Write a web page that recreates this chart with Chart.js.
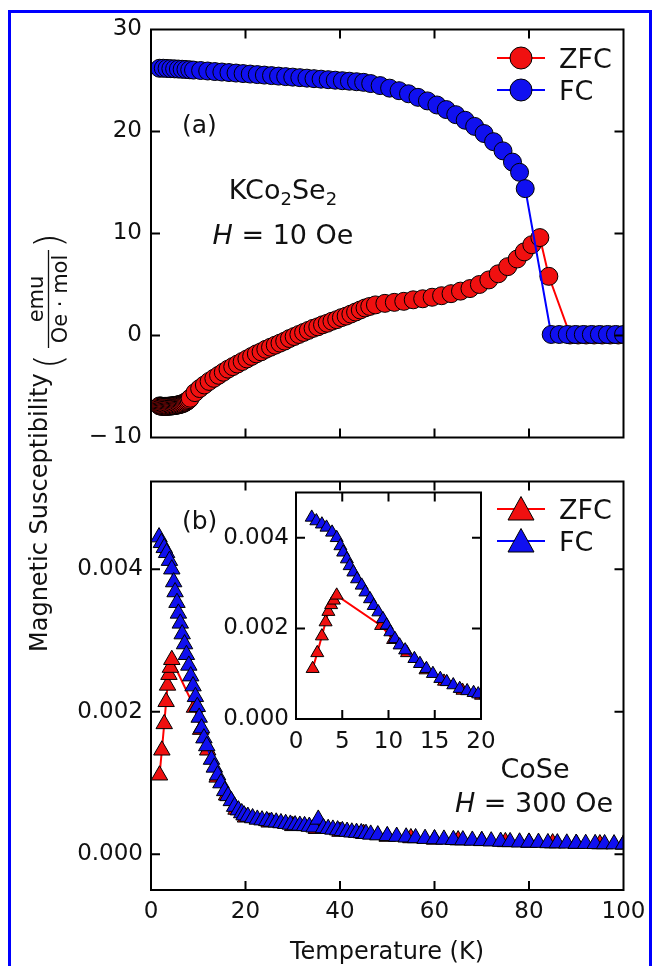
<!DOCTYPE html>
<html><head><meta charset="utf-8">
<script src="https://cdn.jsdelivr.net/npm/chart.js@4.4.1/dist/chart.umd.min.js"></script>
<style>
html,body{margin:0;padding:0;background:#fff;}
body{width:652px;height:966px;position:relative;overflow:hidden;}
canvas{position:absolute;left:0;top:0;}
svg{position:absolute;left:0;top:0;pointer-events:none;}
#frame{position:absolute;left:8px;top:10px;width:644px;height:1000px;border:3.5px solid #0000ff;box-sizing:border-box;}
</style></head>
<body>
<canvas id="cTop" width="652" height="966"></canvas>
<canvas id="cBot" width="652" height="966"></canvas>
<canvas id="cIns" width="652" height="966"></canvas>
<svg width="652" height="966" viewBox="0 0 652 966" font-family="DejaVu Sans" fill="#111">
  <!-- panel (a) -->
  <text x="182" y="133" font-size="25">(a)</text>
  <text x="283" y="199" font-size="27" text-anchor="middle">KCo<tspan font-size="18" dy="6">2</tspan><tspan dy="-6">Se</tspan><tspan font-size="18" dy="6">2</tspan></text>
  <text x="283" y="244" font-size="27" text-anchor="middle"><tspan font-style="italic">H</tspan> = 10 Oe</text>
  <line x1="497" y1="58" x2="545" y2="58" stroke="#ff0000" stroke-width="2"/>
  <circle cx="521" cy="58" r="11" fill="#f01010" stroke="#000" stroke-width="1"/>
  <text x="559" y="68" font-size="27">ZFC</text>
  <line x1="497" y1="90" x2="545" y2="90" stroke="#0000ff" stroke-width="2"/>
  <circle cx="521" cy="90" r="11" fill="#1010f0" stroke="#000" stroke-width="1"/>
  <text x="559" y="100" font-size="27">FC</text>
  <!-- panel (b) -->
  <text x="182" y="529" font-size="25">(b)</text>
  <line x1="497" y1="509" x2="545" y2="509" stroke="#ff0000" stroke-width="2"/>
  <polygon points="521,496.5 508,520 534,520" fill="#f01010" stroke="#000" stroke-width="1"/>
  <text x="559" y="519" font-size="27">ZFC</text>
  <line x1="497" y1="541" x2="545" y2="541" stroke="#0000ff" stroke-width="2"/>
  <polygon points="521,528.5 508,552 534,552" fill="#1010f0" stroke="#000" stroke-width="1"/>
  <text x="559" y="551" font-size="27">FC</text>
  <text x="535" y="778" font-size="27" text-anchor="middle">CoSe</text>
  <text x="534" y="812" font-size="27" text-anchor="middle"><tspan font-style="italic">H</tspan> = 300 Oe</text>
  <!-- axis titles -->
  <text x="387" y="959" font-size="24" text-anchor="middle">Temperature (K)</text>
  <g transform="translate(48,440) rotate(-90)">
    <text x="-212" y="-1.3" font-size="24">Magnetic Susceptibility</text>
    <text x="71" y="13" font-size="38" font-weight="200">(</text>
    <text x="141" y="-5" font-size="21" text-anchor="middle">emu</text>
    <line x1="92" y1="0.5" x2="190" y2="0.5" stroke="#111" stroke-width="1.3"/>
    <text x="141" y="19" font-size="21" text-anchor="middle">Oe · mol</text>
    <text x="192" y="13" font-size="38" font-weight="200">)</text>
  </g>
</svg>
<div id="frame"></div>
<script>
// ---------- data: KCo2Se2 (panel a), H = 10 Oe ----------
const topZfcT = [1.8,2.05,2.3,2.55,2.8,3.05,3.3,3.55,3.8,4.05,4.3,4.55,4.8,5.05,5.3,5.55,5.8,6.05,6.3,6.55,6.8,7.05,7.3,7.55,7.8,8.05,8.3,
  9.3,10.3,11.3,12.3,13.3,14.3,15.3,16.3,17.3,18.3,19.3,20.3,21.3,22.3,23.3,24.3,25.3,26.3,27.3,28.3,29.3,30.3,31.3,32.3,33.3,34.3,
  35.3,36.3,37.3,38.3,39.3,40.3,41.3,42.3,43.3,44.3,45.3,46.3,47.5,49.5,51.5,53.5,55.5,57.5,59.5,61.5,63.5,65.5,67.5,69.5,71.5,73.5,
  75.5,77.5,79.0,80.6,82.3,84.2,88.7,90.4,92.1,93.8,95.5,97.2,98.9];
const topZfcChi = [-6.9,-6.92,-6.94,-6.95,-6.95,-6.95,-6.95,-6.94,-6.93,-6.92,-6.9,-6.9,-6.88,-6.86,-6.84,-6.82,-6.8,-6.77,-6.74,-6.7,-6.66,-6.6,-6.54,-6.46,-6.38,-6.28,-6.15,
  -5.6,-5.2,-4.85,-4.5,-4.2,-3.9,-3.6,-3.3,-3.05,-2.8,-2.55,-2.3,-2.05,-1.8,-1.6,-1.35,-1.15,-0.95,-0.75,-0.55,-0.3,-0.1,0.1,0.3,0.5,0.7,
  0.85,1.05,1.2,1.4,1.55,1.75,1.9,2.1,2.3,2.5,2.7,2.85,3.0,3.15,3.25,3.35,3.5,3.6,3.75,3.9,4.1,4.35,4.6,5.0,5.45,6.05,
  6.75,7.5,8.2,8.9,9.6,5.8,0.05,0.05,0.05,0.05,0.05,0.05,0.05];
const topFcT = [1.8,2.6,3.4,4.2,5.0,5.8,6.6,7.4,8.2,9.0,10.5,12,13.5,15,16.5,18,19.5,21,22.5,24,
  25.5,27,28.5,30,31.5,33,34.5,36,37.5,39,40.5,42,43.5,45,46.5,48.5,50.5,52.5,54.5,56.5,
  58.5,60.5,62.5,64.5,66.5,68.5,70.5,72.5,74.5,76.5,78,79.2,84.7,86.4,88.1,89.8,91.5,93.2,94.9,96.6,98.3,100];
const topFcChi = [26.2,26.2,26.18,26.16,26.14,26.12,26.1,26.08,26.05,26.02,25.98,25.93,25.88,25.83,25.78,25.73,25.68,25.63,25.58,25.53,
  25.48,25.43,25.38,25.33,25.28,25.23,25.18,25.13,25.08,25.03,24.98,24.93,24.88,24.82,24.7,24.5,24.25,24.0,23.7,23.35,
  23.0,22.6,22.15,21.65,21.1,20.5,19.8,19.0,18.1,17.0,16.0,14.4,0.1,0.1,0.1,0.1,0.1,0.1,0.1,0.1,0.1,0.1];

// ---------- data: CoSe (panel b and inset), H = 300 Oe ----------
const botFcT = [1.7,2.2,2.8,3.3,3.9,4.4,4.8,5.1,5.5,5.8,6.2,6.6,7.1,7.5,8.0,8.4,8.9,9.4,9.8,10.2,
  10.7,11.2,11.8,12.8,13.4,14.1,14.8,15.6,16.3,17.0,17.7,18.5,19.2,19.7,20.5,21.5,22.5,23.5,24.5,25.5,
  26.5,27.5,28.5,29.5,30.5,31.5,32.5,33.5,34.5,35.4,36.5,37.5,38.5,39.5,40.5,41.5,42.5,43.5,44.5,45.5,
  46.5,48,50,52,54,56,58,60,62,64,66,68,70,72,74,76,78,80,82,84,86,88,90,92,94,96,98,100];
const botFcChi = [0.00445,0.00437,0.0043,0.00423,0.00412,0.004,0.00382,0.00368,0.00353,0.00338,0.00324,0.00309,0.00295,0.0028,0.00265,0.0025,0.00236,0.00221,0.00207,0.00192,
  0.00177,0.00163,0.00152,0.00133,0.00122,0.00111,0.001,0.00089,0.00082,0.00075,0.00067,0.00062,0.00058,0.00055,0.00053,0.00051,0.00049,0.00048,0.00047,0.00046,
  0.00045,0.00044,0.00043,0.00042,0.00041,0.000405,0.0004,0.00039,0.00038,0.00049,0.00037,0.00036,0.00035,0.00034,0.00033,0.00032,0.00031,0.000305,0.0003,0.00029,
  0.00028,0.00027,0.00026,0.00025,0.00024,0.00023,0.00022,0.000215,0.00021,0.000205,0.0002,0.000195,0.00019,0.000185,0.00018,0.000175,0.00017,0.000168,0.000165,0.00016,
  0.000158,0.000155,0.000152,0.00015,0.000148,0.000146,0.000144,0.000142];
const botZfcT = [1.8,2.3,2.8,3.2,3.5,3.8,4.1,4.4,9.2,10.5,12,14,16,18,20,25,30,35,40,45,50,55,60,65,70,75,80,85,90,95,100];
const botZfcChi = [0.00111,0.00146,0.00183,0.00214,0.00237,0.00252,0.00262,0.00273,0.00206,0.00175,0.00146,0.00108,0.00083,0.00063,0.00052,
  0.00045,0.0004,0.00036,0.00032,0.00029,0.00025,0.00023,0.00021,0.0002,0.00019,0.000175,0.000165,0.000158,0.00015,0.000145,0.00014];

// ---------- ticks ----------
const tempTicks = [0,20,40,60,80,100];
const tempLabels = ['0','20','40','60','80','100'];
const tempMarks = [20,40,60,80];
const topYTicks = [-10,0,10,20,30];
const topYLabels = ['\u2212\u200910','0','10','20','30'];
const topYMarks = [0,10,20];
const botYTicks = [0,0.002,0.004];
const botYLabels = ['0.000','0.002','0.004'];
const insXTicks = [0,5,10,15,20];
const insXLabels = ['0','5','10','15','20'];
const insXMarks = [5,10,15];
const insYMarks = [0.002,0.004];

const RED = '#f01010', BLUE = '#1010f0';

Chart.defaults.font.family = "'DejaVu Sans', sans-serif";
Chart.defaults.font.size = 23;
Chart.defaults.color = '#111';

const panelDecor = {
  id: 'panelDecor',
  beforeDatasetsDraw(chart, args, o) {
    if (!o || !o.fill) return;
    const a = chart.chartArea, ctx = chart.ctx;
    ctx.save(); ctx.fillStyle = o.fill;
    ctx.fillRect(a.left, a.top, a.right - a.left, a.bottom - a.top);
    ctx.restore();
  },
  afterDatasetsDraw(chart, args, o) {
    if (!o || !o.xMarks) return;
    const a = chart.chartArea, ctx = chart.ctx, xs = chart.scales.x, ys = chart.scales.y;
    const L = o.len;
    ctx.save();
    ctx.strokeStyle = '#000'; ctx.lineWidth = o.tickWidth;
    ctx.beginPath();
    o.xMarks.forEach(v => { const p = xs.getPixelForValue(v);
      ctx.moveTo(p, a.bottom); ctx.lineTo(p, a.bottom - L);
      ctx.moveTo(p, a.top); ctx.lineTo(p, a.top + L); });
    o.yMarks.forEach(v => { const p = ys.getPixelForValue(v);
      ctx.moveTo(a.left, p); ctx.lineTo(a.left + L, p);
      ctx.moveTo(a.right, p); ctx.lineTo(a.right - L, p); });
    ctx.stroke();
    ctx.lineWidth = o.frameWidth;
    ctx.strokeRect(a.left, a.top, a.right - a.left, a.bottom - a.top);
    ctx.restore();
  }
};
Chart.register(panelDecor);

// size = fixed thickness of the axis box (labels are clipped to it)
function axis(min, max, tickVals, labels, pad, horizontal, size) {
  return {
    type: 'linear', min: min, max: max,
    grid: { display: false, drawTicks: false },
    border: { display: false },
    ticks: { display: !!labels, padding: pad, autoSkip: false, maxRotation: 0, minRotation: 0,
      callback: (v, i) => labels ? labels[i] : '' },
    afterBuildTicks: s => { s.ticks = tickVals.map(v => ({ value: v })); },
    afterFit: s => { if (horizontal) s.height = size; else s.width = size;
      s.paddingLeft = 0; s.paddingRight = 0; s.paddingTop = 0; s.paddingBottom = 0; }
  };
}

function series(T, V, fill, line, style, r) {
  return { data: T.map((t, i) => ({ x: t, y: V[i] })),
    borderColor: line, borderWidth: 2, backgroundColor: fill,
    pointStyle: style, pointRadius: r, pointHoverRadius: r,
    pointBackgroundColor: fill, pointBorderColor: '#000', pointBorderWidth: 1,
    tension: 0, fill: false };
}

function panel(id, pad, xs, ys, datasets, decor) {
  return new Chart(document.getElementById(id), {
    type: 'line',
    data: { datasets: datasets },
    options: {
      responsive: false, animation: false, events: [],
      layout: { padding: pad },
      plugins: { legend: { display: false }, tooltip: { enabled: false }, panelDecor: decor },
      scales: { x: xs, y: ys }
    }
  });
}

// panel (a): plot area 151..623.5 x 29.5..437.5
panel('cTop', { left: 11, right: 28.5, top: 29.5, bottom: 528.5 },
  axis(0, 100, tempMarks, null, 0, true, 0),
  axis(-10, 30, topYTicks, topYLabels, 9, false, 140),
  [ series(topFcT, topFcChi, BLUE, '#0000ff', 'circle', 9),
    series(topZfcT, topZfcChi, RED, '#ff0000', 'circle', 9) ],
  { xMarks: tempMarks, yMarks: topYMarks, len: 9, tickWidth: 2, frameWidth: 2 });

// panel (b): plot area 151..623.5 x 481.5..890
panel('cBot', { left: 11, right: 28.5, top: 481.5, bottom: 16 },
  axis(0, 100, tempTicks, tempLabels, 8, true, 60),
  axis(-0.0005, 0.00523, botYTicks, botYLabels, 8, false, 140),
  [ series(botFcT, botFcChi, BLUE, '#0000ff', 'triangle', 9.5),
    series(botZfcT, botZfcChi, RED, '#ff0000', 'triangle', 9.5) ],
  { xMarks: tempMarks, yMarks: botYTicks, len: 9, tickWidth: 2, frameWidth: 2 });

// inset: plot area 296..481 x 492.5..719
panel('cIns', { left: 196, right: 171, top: 492.5, bottom: 207 },
  axis(0, 20, insXTicks, insXLabels, 9, true, 40),
  axis(0, 0.005, botYTicks, botYLabels, 7, false, 100),
  [ series(botFcT, botFcChi, BLUE, '#0000ff', 'triangle', 7.5),
    series(botZfcT, botZfcChi, RED, '#ff0000', 'triangle', 7.5) ],
  { xMarks: insXMarks, yMarks: insYMarks, len: 9, tickWidth: 2, frameWidth: 2, fill: '#ffffff' });
</script>
</body></html>
